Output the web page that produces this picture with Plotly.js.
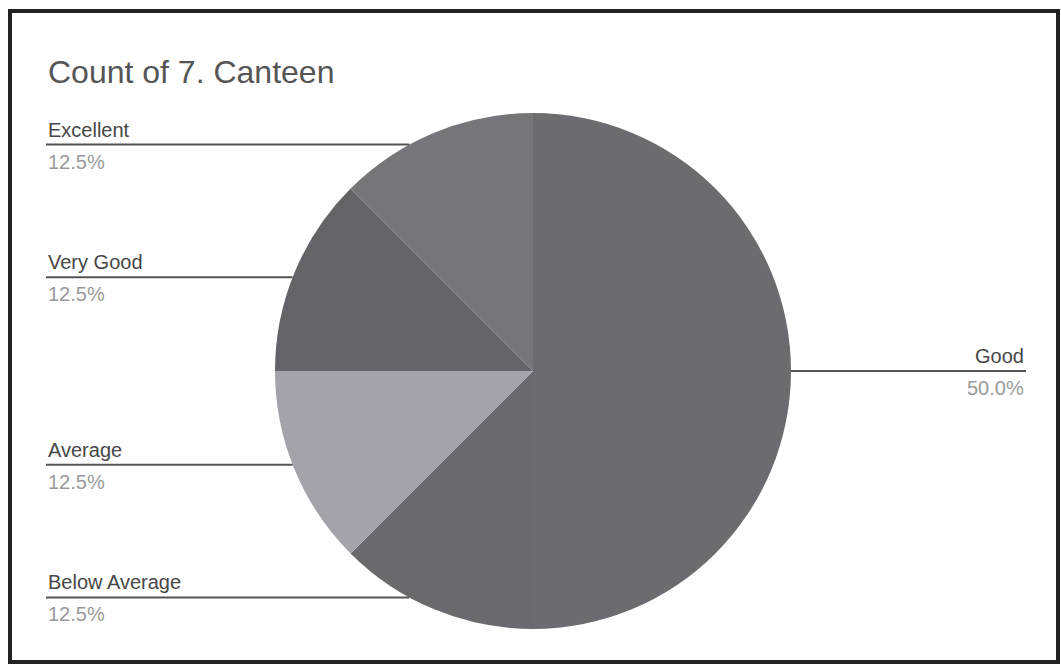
<!DOCTYPE html>
<html>
<head>
<meta charset="utf-8">
<script src="https://cdn.plot.ly/plotly-3.0.1.min.js"></script>
<style>html,body{margin:0;padding:0;background:#fff;}#chart{width:1061px;height:667px;}</style>
</head>
<body>
<div id="chart"></div>
<script>
// Data (clockwise from 12 o'clock)
const categories = ["Good", "Below Average", "Average", "Very Good", "Excellent"];
const counts = [4, 1, 1, 1, 1];
const percentLabels = ["50.0%", "12.5%", "12.5%", "12.5%", "12.5%"];
const sliceColors = ["#6b6b70", "#6a6a6e", "#a3a3a9", "#636368", "#75757a"];

// Layout geometry (pixels)
const W = 1061, H = 667;
const cx = 533, cy = 371, R = 258;
const leftX = 46, rightX = 1026;
const FONT = "'Liberation Sans', Arial, sans-serif";

const px = x => x / W;
const py = y => 1 - y / H;

const total = counts.reduce((a, b) => a + b, 0);
const shapes = [{
  type: 'rect', xref: 'paper', yref: 'paper',
  x0: px(10), x1: px(1058), y0: py(662), y1: py(11),
  line: {color: '#222', width: 4}
}];
const annotations = [];
let cum = 0;
categories.forEach((cat, i) => {
  const frac = counts[i] / total;
  const mid = (cum + frac / 2) * 2 * Math.PI; // clockwise from top
  cum += frac;
  const sx = Math.sin(mid), cyv = Math.cos(mid);
  const ly = cy - 0.95 * R * cyv;
  const dy = ly - cy;
  const half = Math.sqrt(Math.max(R * R - dy * dy, 0));
  const right = sx > 0.01;
  const edgeX = right ? cx + half : cx - half;
  const startX = right ? rightX : leftX;
  shapes.push({
    type: 'line', xref: 'paper', yref: 'paper',
    x0: px(startX), x1: px(edgeX), y0: py(ly), y1: py(ly),
    line: {color: '#555', width: 2}
  });
  annotations.push({
    xref: 'paper', yref: 'paper', x: px(startX), y: py(ly - 15),
    xanchor: right ? 'right' : 'left', yanchor: 'middle', showarrow: false,
    text: cat, font: {family: FONT, size: 20, color: '#474747'}
  });
  annotations.push({
    xref: 'paper', yref: 'paper', x: px(startX), y: py(ly + 17),
    xanchor: right ? 'right' : 'left', yanchor: 'middle', showarrow: false,
    text: percentLabels[i], font: {family: FONT, size: 20, color: '#9a9a9a'}
  });
});

const trace = {
  type: 'pie',
  labels: categories,
  values: counts,
  sort: false,
  direction: 'clockwise',
  rotation: 0,
  textinfo: 'none',
  hoverinfo: 'label+percent',
  marker: {colors: sliceColors, line: {width: 0}},
  domain: {x: [px(cx - R), px(cx + R)], y: [py(cy + R), py(cy - R)]},
  showlegend: false
};

const layout = {
  width: W, height: H,
  margin: {l: 0, r: 0, t: 0, b: 0},
  paper_bgcolor: '#ffffff',
  showlegend: false,
  title: {
    text: 'Count of 7. Canteen',
    x: px(48), xanchor: 'left', xref: 'paper',
    y: py(72), yanchor: 'middle', yref: 'paper',
    font: {family: FONT, size: 32, color: '#555'}
  },
  shapes: shapes,
  annotations: annotations
};

Plotly.newPlot('chart', [trace], layout, {displayModeBar: false, staticPlot: true});
</script>
</body>
</html>
